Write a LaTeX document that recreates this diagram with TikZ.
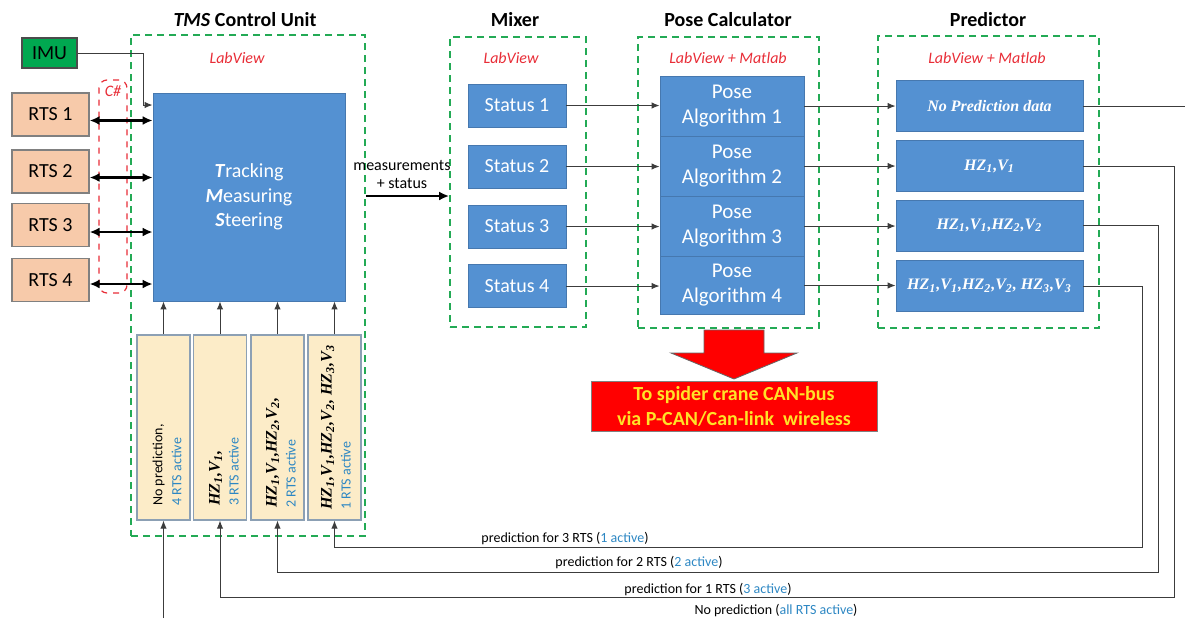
\documentclass[tikz,border=0pt]{standalone}
\usepackage{fontspec}
\setmainfont{Carlito}
\newfontfamily\predfont{Liberation Serif}
\usetikzlibrary{arrows.meta}
\definecolor{boxblue}{RGB}{84,145,210}
\definecolor{boxedge}{RGB}{70,120,175}
\definecolor{unitgreen}{RGB}{35,170,85}
\definecolor{toolred}{RGB}{232,45,55}
\definecolor{rtspeach}{RGB}{247,202,170}
\definecolor{fbyellow}{RGB}{252,236,200}
\definecolor{fbedge}{RGB}{140,160,180}
\definecolor{activeblue}{RGB}{45,135,195}
\definecolor{linegray}{RGB}{60,60,60}
\definecolor{imugreen}{RGB}{0,168,80}
\definecolor{canyellow}{RGB}{255,226,40}
\newcommand{\hzv}[1]{HZ\textsubscript{#1},V\textsubscript{#1}}
\begin{document}
\begin{tikzpicture}[x=0.5pt, y=-0.5pt, >={Latex[length=4pt,width=3.2pt]},
  unitbox/.style={draw=unitgreen, line width=0.9pt, dash pattern=on 3.5pt off 2.5pt, inner sep=0pt},
  unittitle/.style={font=\bfseries\fontsize{10}{12}\selectfont, inner sep=1pt},
  tooltext/.style={text=toolred, font=\itshape\fontsize{8}{9}\selectfont, inner sep=1pt},
  bluebox/.style={fill=boxblue, draw=boxedge, line width=0.4pt, text=white, inner sep=0pt, align=center, font=\fontsize{10}{12.25}\selectfont},
  rtsbox/.style={fill=rtspeach, draw=gray, line width=0.6pt, inner sep=0pt, minimum width=38.5pt, minimum height=21.5pt, font=\fontsize{10}{12}\selectfont},
  fbbox/.style={fill=fbyellow, draw=fbedge, line width=0.6pt, inner sep=0pt, minimum width=26.5pt, minimum height=92.5pt},
  fbtext/.style={rotate=90, anchor=west, align=left, inner sep=0pt, font=\fontsize{7}{9.5}\selectfont},
  predbox/.style={bluebox, minimum width=93.5pt, minimum height=25.5pt, font=\predfont\bfseries\itshape\fontsize{8}{9}\selectfont},
  link/.style={draw=linegray, line width=0.5pt, ->},
  rtslink/.style={line width=1.1pt, {Latex[length=5pt,width=4.5pt]}-{Latex[length=5pt,width=4.5pt]}},
  fblabel/.style={font=\fontsize{7}{8}\selectfont, inner sep=0pt}]
\useasboundingbox (0,0) rectangle (1185,618);
\node (tmsunit) at (248,285.5) [unitbox, minimum width=117pt, minimum height=250.5pt] {};
\node (mixunit) at (518,182) [unitbox, minimum width=68pt, minimum height=145pt] {};
\node (poseunit) at (728.5,182.5) [unitbox, minimum width=90.5pt, minimum height=145.5pt] {};
\node (predunit) at (988.5,182) [unitbox, minimum width=110.5pt, minimum height=146pt] {};
\node (tmstitle) at (245,20) [unittitle] {\textit{TMS} Control Unit};
\node (mixtitle) at (515,20) [unittitle] {Mixer};
\node (posetitle) at (728,20) [unittitle] {Pose Calculator};
\node (predtitle) at (988,20) [unittitle] {Predictor};
\node (tmstool) at (237,58) [tooltext] {LabView};
\node (mixtool) at (511,58) [tooltext] {LabView};
\node (posetool) at (728,58) [tooltext] {LabView + Matlab};
\node (predtool) at (987,58) [tooltext] {LabView + Matlab};
\node (csharp) at (113,186.5) [draw=toolred, dashed, rounded corners=4pt, line width=0.6pt, minimum width=14pt, minimum height=106.5pt] {};
\node (csharptext) at (csharp.north) [tooltext, below=2pt] {C\#};
\node (imu) at (49.5,53) [fill=imugreen, draw=black!70, line width=0.8pt, minimum width=27.5pt, minimum height=15pt, inner sep=0pt, font=\fontsize{10}{12}\selectfont] {IMU};
\node (rts1) at (50.5,114.5) [rtsbox] {RTS 1};
\node (rts2) at (50.5,171.5) [rtsbox] {RTS 2};
\node (rts3) at (50.5,225) [rtsbox] {RTS 3};
\node (rts4) at (50.5,280) [rtsbox] {RTS 4};
\node (tms) at (249,197) [bluebox, minimum width=96pt, minimum height=104pt] {\textbf{\textit{T}}racking\\\textbf{\textit{M}}easuring\\\textbf{\textit{S}}teering};
\node (fb1) at (163.5,427.5) [fbbox] {};
\node (fb2) at (220,427.5) [fbbox] {};
\node (fb3) at (277.5,427.5) [fbbox] {};
\node (fb4) at (334.5,427.5) [fbbox] {};
\node (fbtext1) at (167,506) [fbtext] {No prediction,\\\textcolor{activeblue}{4 RTS active}};
\node (fbtext2) at (224,506) [fbtext] {{\predfont\bfseries\itshape\fontsize{8}{9}\selectfont\hzv{1},}\\\textcolor{activeblue}{3 RTS active}};
\node (fbtext3) at (281,508) [fbtext] {{\predfont\bfseries\itshape\fontsize{8}{9}\selectfont\hzv{1},\hzv{2},}\\\textcolor{activeblue}{2 RTS active}};
\node (fbtext4) at (336,510) [fbtext] {{\predfont\bfseries\itshape\fontsize{8}{9}\selectfont\hzv{1},\hzv{2}, \hzv{3}}\\\textcolor{activeblue}{1 RTS active}};
\node (st1) at (517,105.5) [bluebox, minimum width=49pt, minimum height=21.5pt] {Status 1};
\node (st2) at (517,166.5) [bluebox, minimum width=49pt, minimum height=21.5pt] {Status 2};
\node (st3) at (517,226.5) [bluebox, minimum width=49pt, minimum height=21.5pt] {Status 3};
\node (st4) at (517,286) [bluebox, minimum width=49pt, minimum height=21.5pt] {Status 4};
\node (pose1) at (732,106) [bluebox, minimum width=72pt, minimum height=30pt, font=\fontsize{10.5}{12.5}\selectfont] {Pose\\Algorithm 1};
\node (pose2) at (732,166) [bluebox, minimum width=72pt, minimum height=30pt, font=\fontsize{10.5}{12.5}\selectfont] {Pose\\Algorithm 2};
\node (pose3) at (732,226) [bluebox, minimum width=72pt, minimum height=30pt, font=\fontsize{10.5}{12.5}\selectfont] {Pose\\Algorithm 3};
\node (pose4) at (732,285.5) [bluebox, minimum width=72pt, minimum height=29pt, font=\fontsize{10.5}{12.5}\selectfont] {Pose\\Algorithm 4};
\node (pr1) at (989.5,106) [predbox] {No Prediction data};
\node (pr2) at (989.5,166) [predbox] {\hzv{1}};
\node (pr3) at (989.5,225.5) [predbox] {\hzv{1},\hzv{2}};
\node (pr4) at (989.5,286) [predbox] {\hzv{1},\hzv{2}, \hzv{3}};
\draw[fill=red, draw=black!60, line width=0.4pt] (704,330)--(764,330)--(764,353)--(797,353)--(734,379)--(671,353)--(704,353)--cycle;
\node (canbox) at (734,406) [fill=red, draw=black!50, line width=0.4pt, minimum width=143pt, minimum height=25pt, inner sep=0pt, text=canyellow, align=center, font=\bfseries\fontsize{10}{12.5}\selectfont] {To spider crane CAN-bus\\via P-CAN/Can-link\ \ wireless};
\node (meastext) at (402,174) [align=center, inner sep=0pt, font=\fontsize{8}{9}\selectfont] {measurements\\+ status};
\node (fblabel3) at (565,538) [fblabel] {prediction for 3 RTS (\textcolor{activeblue}{1 active})};
\node (fblabel2) at (639,562) [fblabel] {prediction for 2 RTS (\textcolor{activeblue}{2 active})};
\node (fblabel1) at (708,589) [fblabel] {prediction for 1 RTS (\textcolor{activeblue}{3 active})};
\node (fblabel0) at (776,610) [fblabel] {No prediction (\textcolor{activeblue}{all RTS active})};
\coordinate (imubend) at (143,105);
\coordinate (measy) at (400,196);
\coordinate (rightedge) at (1185,106);
\coordinate (bottomedge) at (163.5,618);
\draw[link] (imu.east) -| (imubend) -- (imubend -| tms.west);
\draw[rtslink] ([yshift=-3pt]rts1.east) -- ([yshift=-3pt]rts1.east -| tms.west);
\draw[rtslink] ([yshift=-3pt]rts2.east) -- ([yshift=-3pt]rts2.east -| tms.west);
\draw[rtslink] ([yshift=-3.5pt]rts3.east) -- ([yshift=-3.5pt]rts3.east -| tms.west);
\draw[rtslink] ([yshift=-2pt]rts4.east) -- ([yshift=-2pt]rts4.east -| tms.west);
\draw[link] (fb1.north) -- (fb1.north |- tms.south);
\draw[link] (fb2.north) -- (fb2.north |- tms.south);
\draw[link] (fb3.north) -- (fb3.north |- tms.south);
\draw[link] (fb4.north) -- (fb4.north |- tms.south);
\draw[->, line width=1.1pt, >={Latex[length=5pt,width=4.5pt]}] (measy -| tmsunit.east) -- (measy -| mixunit.west);
\draw[link] (st1.east) -- (st1.east -| pose1.west);
\draw[link] (st2.east) -- (st2.east -| pose2.west);
\draw[link] (st3.east) -- (st3.east -| pose3.west);
\draw[link] (st4.east) -- (st4.east -| pose4.west);
\draw[link] (pose1.east) -- (pose1.east -| pr1.west);
\draw[link] (pose2.east) -- (pose2.east -| pr2.west);
\draw[link] (pose3.east) -- (pose3.east -| pr3.west);
\draw[link] (pose4.east) -- (pose4.east -| pr4.west);
\draw[draw=linegray, line width=0.5pt] (pr1.east) -- (rightedge);
\draw[link] (pr2.east) -- (1174,166) -- (1174,597) -| (fb2.south);
\draw[link] (pr3.east) -- (1158,225.5) -- (1158,572) -| (fb3.south);
\draw[link] (pr4.east) -- (1142,286) -- (1142,547) -| (fb4.south);
\draw[link] (bottomedge) -- (fb1.south);
\end{tikzpicture}
\end{document}
